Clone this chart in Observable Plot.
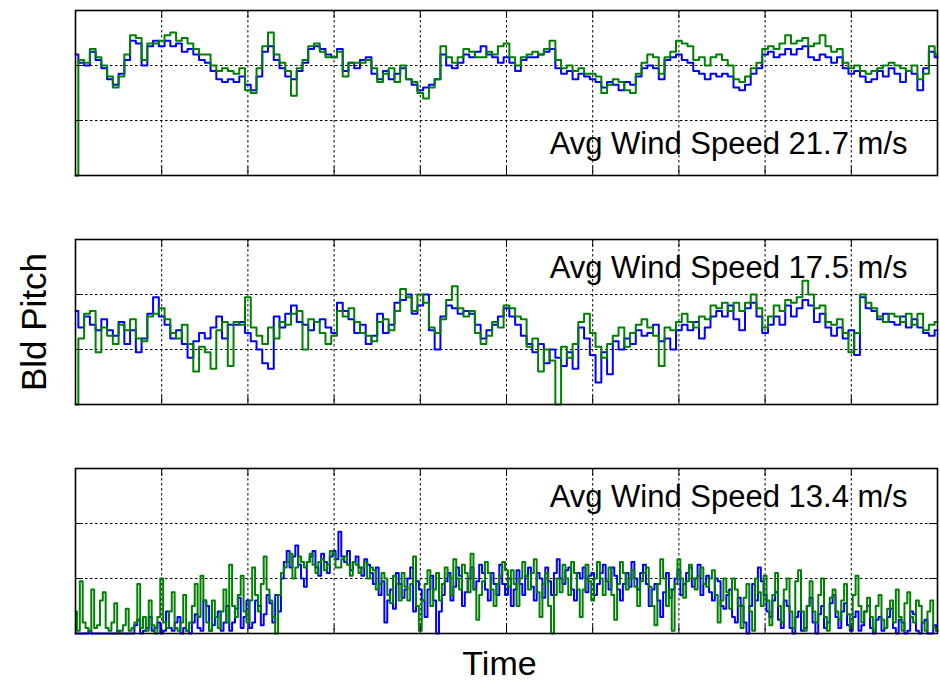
<!DOCTYPE html>
<html><head><meta charset="utf-8">
<script src="https://cdn.jsdelivr.net/npm/d3@7"></script>
<script src="https://cdn.jsdelivr.net/npm/@observablehq/plot@0.6"></script>
<style>html,body{margin:0;padding:0;background:#fff;overflow:hidden}</style>
</head><body><div id="chart"></div>
<script>
// Average wind speed of each panel (m/s), top to bottom
const speeds = ["21.7", "17.5", "13.4"];
// sample spacing (s) of each panel over a 600 s record
const dts = [4, 4, 2];

// Blade pitch (deg), panel 21.7 m/s
const blue217 = [22,20.5,20,22.5,21,19.5,17.5,16.5,18.5,21,
24.5,24,20,23.5,24.5,23.5,24.5,23.5,24,22.5,
23,22,21,20.5,19,17.5,17,17.5,17,18,
16.5,15.5,18,22.5,23.5,21,19.5,18,17.5,19,
20.5,23,23.5,23,22,21.5,23,19,20.5,19.5,
21,21.5,18.5,17.5,19,17.5,18.5,19.5,17.5,16.5,
15.5,16,16.5,17.5,22,20,19.5,20.5,22,21.5,
22.5,23.5,22,21.5,20.5,21.5,20.5,19,21,21.5,
21.5,22,22.5,23,19.5,18.5,19,17.5,18.5,18,
17.5,17,16,17,16.5,15.5,17,16.5,18,19.5,
20,19.5,17.5,21,21.5,22,21,20.5,19,18.5,
17.5,18.5,18,18.5,18,16,15.5,16.5,18.5,19.5,
22,22.5,21.5,22,23,22,23,23.5,21.5,21,
22,21.5,20.5,21.5,19.5,18.5,19,18,17,17.5,
19,18,19.5,18.5,17,19,18.5,15.5,19.5,22.5,
21.5];
const green217 = [0,21,20.5,23,21.5,20,18,16,18,22,
25.5,25,21,24,24,24.5,25.5,26,24.5,25,
24,23,22,22,20,19,19.5,19,18.5,19.5,
15.5,15,19.5,23.5,26,22,20.5,19,14.5,19.5,
21,23.5,24,22.5,21.5,21.5,22.5,18,20.5,20.5,
20.5,21,19.5,17,18.5,19.5,17,20,17.5,17,
15,14,16,17.5,23.5,21.5,20.5,21.5,23,22.5,
21.5,21.5,22.5,22,23.5,24,21.5,20,21.5,22,
22.5,22,23,24.5,21,19.5,20,19,19.5,18.5,
18.5,18,15,16.5,17.5,17,15.5,15,18.5,20.5,
22,21.5,18.5,21.5,22.5,24.5,24,23.5,21,21.5,
20,21.5,22,21,20,17.5,17,18,19.5,20.5,
23,23.5,23,24,25.5,24,24.5,25,23.5,24,
25.5,23.5,22.5,23,20.5,19.5,20,19,18.5,19,
19.5,20,20.5,20,19.5,19,20,17.5,18.5,23.5,
22];

// panel 17.5 m/s
const blue175 = [17,14,16,14.5,13.5,15.5,13.5,12.5,15,11,
13.5,9.5,12,16.5,19.5,16,14.5,12,13.5,11,
8.5,11.5,13,12,14,16,12,14.5,14.5,15,
13,11.5,10,7.5,6.5,16,14,16.5,18,15,
14.5,13.5,15,15.5,14,13,18.5,17,15.5,13,
14.5,11,12.5,16.5,13,14.5,18.5,19,20,16.5,
18,20,13.5,10,16,18,17.5,16.5,17,16.5,
14.5,12,13.5,14.5,16,17.5,16,14.5,12.5,11,
9.5,11,7.5,10,8.5,7,9.5,6.5,14,12,
9,4,9.5,5.5,11.5,10,12,11,13.5,12.5,
13,14.5,11.5,12,10,13.5,14.5,13.5,15,12,
14,16,17,16,18,15.5,13.5,17.5,18.5,16,
13,14.5,16,14.5,18,16,17.5,19,18,15,
16.5,14,12.5,14,12,13.5,9,19.5,17.5,17,
15.5,16.5,15,14.5,16,14,15.5,14,13,12.5,
13.5];
const green175 = [0,12,16.5,17,9.5,14,12.5,11,14.5,13.5,
15.5,12,11.5,16,16.5,17.5,15.5,13,12,14.5,
11,6,10.5,9.5,6.5,13.5,15,7,15,14.5,
19.5,14,12.5,11,14,12,15,14.5,16.5,17,
10,15.5,15,13,11,12.5,17,16,17.5,15,
13,12.5,11.5,15,15.5,13.5,17,21,19.5,17,
20,18.5,14,13,15.5,19,21.5,17.5,16,17,
13,11,12.5,15,14,18,17.5,16,15.5,10.5,
12,6,10,8,0,10.5,8.5,11,15,16.5,
13,10.5,8.5,11,12.5,14,10.5,13,14.5,15.5,
14,12.5,7,14,13.5,15,16.5,15,14,16,
15.5,18,17.5,18.5,17,18.5,17,18.5,20,17.5,
14,16,18,17,19,18.5,19.5,22.5,20,17.5,
18,15,14.5,15.5,13,9.5,13,20,18.5,17.5,
16,15,16.5,16,15,16.5,14.5,16.5,13.5,14.5,
15];

// panel 13.4 m/s (denser sampling)
const blue134 = [0,0,0,0,0,0.5,0,0,0,0,0,0,0,0,0,0.5,0,0,0,0,
0,1.5,2.5,0,0.5,1,3,0.5,1,2,0,0.5,4,1,0.5,2,3,0,1,0.5,
0,2,3.5,1,0.5,6,5,0.5,1.5,3,4,0.5,2,5,0.5,2,4.5,6.5,1,3,
6,1,2,6,5,1.5,3.5,7,5.5,2,7,4,10,13,15,12,14,16,12.5,10,
8.5,13,14,15,12,10.5,14.5,13,11,14,15,13.5,18.5,14,13,15,11.5,13,14,12,
10.5,13.5,12.5,11,9,12,7,9.5,2,6,8,4.5,11,9,6.5,8,10,12,4,9.5,
8,6,3,8,10.5,6,0,4,7,9.5,11,6,8.5,12,10.5,5,7.5,10,12,8,
9.5,12.5,11,8,6,11,9,7,12.5,9,7,10,5,8,11.5,9,7,10.5,12,8.5,
6,11,10,6.5,12,9.5,7,11,13.5,10,9,11.5,12,8,6,11,10,12,7.5,10.5,
11,7,9,11,12.5,9.5,8,12,10.5,8,6,9,11,8.5,13,10,8,11,12.5,9,
5,8,9,6,3,7.5,11,6.5,8,10,11.5,7,9,11,12,8.5,10,12.5,7,9,
10.5,7.5,6,10,9.5,5,4.5,7,8,3,2,6.5,5,2,0,5,9,6,12,9.5,
7,4,3,6,7.5,2.5,1,6,5,1,0,3,4,0.5,1,5,6.5,2,0,3.5,
5,1,2,5.5,7,3,1,4,5.5,1.5,0.5,3,4,0.5,1.5,4,5,1,0,2.5,
3,0.5,1,3,4.5,1,0,2.5,2,0,0.5,4,3.5,0.5,0,2,2.5,0,0,1.5,
0.5];
const green134 = [4,0.5,9.5,2,1,0.5,8,1,1.5,6,7.5,1,0.5,2,5.5,0,0.5,1.5,4.5,0.5,
1,2,9,1,3,0.5,6,1.5,0,3,10,2,1,4,7.5,1,0.5,2,7,0.5,
2,5,9,3,10.5,6,2,0.5,6,3,1,4,8,2,12.5,5,3,7,10.5,4,
2,6,12,7,4,9,14,8,6,3,0,7,11,12,13,14.5,10,12,14,13,
12,13,14.5,12.5,11,13,13.5,11.5,12.5,15,14.5,12,12,13.5,14,12.5,10.5,13,12.5,11,
12,13,10,12,11.5,8,9,11,10,7,5.5,10.5,9,6,11,8.5,6,9,14,5,
0.5,6,9,11.5,5,8,11,6,9,12,10.5,7,13.5,10,8,12.5,11,7.5,14.5,8,
2.5,7,9.5,13,11,8,5,9,10.5,13,11.5,8.5,11.5,9,5,10,13,10.5,8,11,
13.5,7.5,3,9,11,5,0,7,10,7.5,12.5,10,7,13,11,8,3,8,12.5,9.5,
6,10,13,10,7,9.5,12,7,2.5,9,13,11,8,10,11.5,8.5,5,9.5,11,12,
8.5,5,1.5,9,13.5,10,5,8,0.5,9,13.5,10,6.5,9.5,12.5,10,8,10.5,12,9,
8.5,10,11.5,7,2,6,10,7.5,4.5,10,8,5,1,6.5,9,4,0.5,10,7.5,5,
10.5,6,1.5,7,11,5,2,8,10,4,1,9.5,11.5,4,0.5,5,9.5,4,2,7,
10,3,0.5,6.5,8,4,2.5,6,9,3.5,1,7,10.5,5,2,4,6.5,3,0.5,5,
7,2.5,1,4.5,6,2,8,3,0.5,5.5,7.5,3,2,6,5,2,0.5,4,6,1,
0.5];

// grid / tick positions (no tick labels are shown)
const xTicks = [0,60,120,180,240,300,360,420,480,540,600];
const yTicks = [0,10,20,30];

const blueSets = [blue217, blue175, blue134];
const greenSets = [green217, green175, green134];
const toRows = (sets) => sets.flatMap((vals, k) =>
  vals.map((v, i) => ({speed: speeds[k], t: i * dts[k], v})));
const blueRows = toRows(blueSets);
const greenRows = toRows(greenSets);

const innerX = xTicks.slice(1, -1);
const innerY = yTicks.slice(1, -1);
const dotted = {stroke: "black", strokeWidth: 1, strokeDasharray: "2.5,2.5"};

const chart = Plot.plot({
  width: 940,
  height: 681,
  marginLeft: 75,
  marginRight: 3,
  marginTop: 9,
  marginBottom: 48,
  style: {fontFamily: "'Liberation Sans', Arial, Helvetica, sans-serif", background: "white", color: "black"},
  x: {domain: [xTicks[0], xTicks[xTicks.length - 1]], axis: null},
  y: {domain: [yTicks[0], yTicks[yTicks.length - 1]], axis: null},
  fy: {domain: speeds, axis: null, paddingInner: 0.281, paddingOuter: 0},
  marks: [
    Plot.ruleX(innerX, dotted),
    Plot.ruleY(innerY, dotted),
    Plot.line(blueRows, {x: "t", y: "v", fy: "speed", stroke: "#0000ff", strokeWidth: 2, curve: "step"}),
    Plot.line(greenRows, {x: "t", y: "v", fy: "speed", stroke: "#008000", strokeWidth: 2, curve: "step"}),
    Plot.ruleX(innerX, {stroke: "black", strokeWidth: 1, insetTop: 157}),
    Plot.ruleX(innerX, {stroke: "black", strokeWidth: 1, insetBottom: 157}),
    Plot.ruleY(innerY, {stroke: "black", strokeWidth: 1, insetRight: 854}),
    Plot.ruleY(innerY, {stroke: "black", strokeWidth: 1, insetLeft: 854}),
    Plot.frame({stroke: "black", strokeWidth: 1.6}),
    Plot.text(speeds.slice(0, 1), {
      fy: (d) => d, text: (d) => `Avg Wind Speed ${d} m/s`,
      frameAnchor: "bottom-right", textAnchor: "end", lineAnchor: "bottom",
      dx: -30, dy: -22, fontSize: 31, fill: "black"
    }),
    Plot.text(speeds.slice(1), {
      fy: (d) => d, text: (d) => `Avg Wind Speed ${d} m/s`,
      frameAnchor: "top-right", textAnchor: "end", lineAnchor: "top",
      dx: -30, dy: 16, fontSize: 31, fill: "black"
    }),
    Plot.text(speeds.slice(1, 2), {
      fy: (d) => d, text: () => "Bld Pitch",
      frameAnchor: "left", textAnchor: "middle", lineAnchor: "bottom",
      rotate: -90, dx: -30, fontSize: 35, fill: "black"
    }),
    Plot.text(speeds.slice(2), {
      fy: (d) => d, text: () => "Time",
      frameAnchor: "bottom", textAnchor: "middle", lineAnchor: "bottom",
      dx: -7, dy: 41, fontSize: 34, fill: "black"
    })
  ]
});
document.getElementById("chart").append(chart);
</script>
</body></html>
